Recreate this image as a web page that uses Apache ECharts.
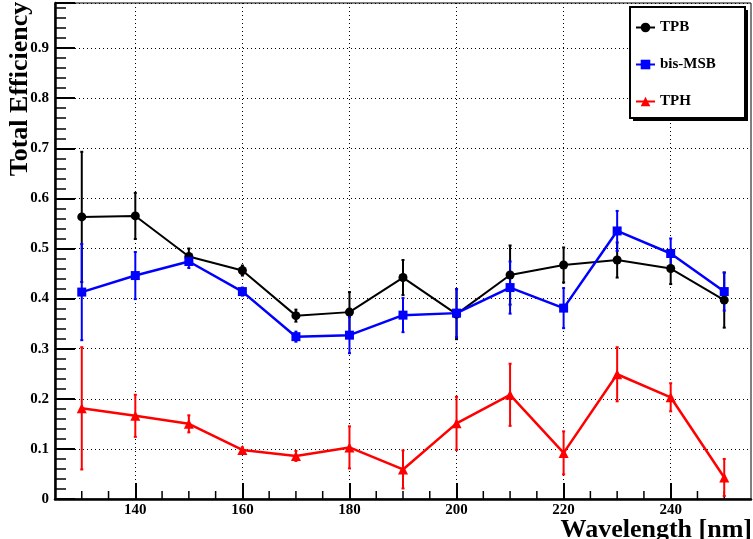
<!DOCTYPE html>
<html>
<head>
<meta charset="utf-8">
<script src="https://cdn.jsdelivr.net/npm/echarts@6/dist/echarts.min.js"></script>
<style>
  html, body { margin: 0; padding: 0; background: #fff; }
  #chart { width: 753px; height: 539px; }
</style>
</head>
<body>
<div id="chart"></div>
<script>
  // wavelengths in nm
  const wavelengths = [130, 140, 150, 160, 170, 180, 190, 200, 210, 220, 230, 240, 250];
  const tpbEff = [0.563, 0.565, 0.484, 0.456, 0.366, 0.373, 0.442, 0.369, 0.447, 0.467, 0.477, 0.460, 0.397];
  const tpbErr = [0.130, 0.046, 0.016, 0.010, 0.012, 0.040, 0.035, 0.050, 0.059, 0.035, 0.035, 0.031, 0.055];
  const msbEff = [0.413, 0.446, 0.474, 0.414, 0.324, 0.327, 0.367, 0.371, 0.422, 0.381, 0.535, 0.490, 0.414];
  const msbErr = [0.096, 0.047, 0.013, 0.008, 0.010, 0.036, 0.034, 0.048, 0.052, 0.040, 0.040, 0.030, 0.038];
  const tphEff = [0.181, 0.166, 0.150, 0.098, 0.086, 0.103, 0.059, 0.151, 0.208, 0.092, 0.249, 0.203, 0.043];
  const tphErr = [0.122, 0.042, 0.017, 0.005, 0.010, 0.042, 0.038, 0.053, 0.062, 0.043, 0.054, 0.028, 0.037];
  const xMajorTicks = [140, 160, 180, 200, 220, 240];
  const xMinorTicks = [130, 135, 145, 150, 155, 165, 170, 175, 185, 190, 195, 205, 210, 215, 225, 230, 235, 245, 250];

  const serif = "'Liberation Serif', 'DejaVu Serif', serif";

  function pts(ys) { return wavelengths.map((x, i) => [x, ys[i]]); }
  function errPts(ys, es) { return wavelengths.map((x, i) => [x, ys[i], es[i]]); }

  function errorSeries(name, color, ys, es) {
    return {
      name: name,
      type: 'custom',
      data: errPts(ys, es),
      z: 2,
      renderItem: function (params, api) {
        const x = api.value(0), y = api.value(1), e = api.value(2);
        const top = api.coord([x, y + e]);
        const bot = api.coord([x, y - e]);
        const st = { stroke: color, lineWidth: 2 };
        return {
          type: 'group',
          children: [
            { type: 'line', shape: { x1: top[0], y1: top[1], x2: bot[0], y2: bot[1] }, style: st },
            { type: 'line', shape: { x1: top[0] - 1.5, y1: top[1], x2: top[0] + 1.5, y2: top[1] }, style: st },
            { type: 'line', shape: { x1: bot[0] - 1.5, y1: bot[1], x2: bot[0] + 1.5, y2: bot[1] }, style: st }
          ]
        };
      }
    };
  }

  function lineSeries(name, color, ys, symbol, size, width) {
    return {
      name: name,
      type: 'line',
      data: pts(ys),
      symbol: symbol,
      symbolSize: size,
      showAllSymbol: true,
      z: 3,
      itemStyle: { color: color },
      lineStyle: { color: color, width: width }
    };
  }

  const chart = echarts.init(document.getElementById('chart'));
  const option = {
    animation: false,
    backgroundColor: '#fff',
    grid: {
      left: 55, right: 2, top: 3, bottom: 40,
      show: true, borderColor: '#000', borderWidth: 1
    },
    legend: {
      data: ['TPB', 'bis-MSB', 'TPH'],
      orient: 'vertical',
      left: 630,
      top: 15,
      itemGap: 22,
      itemWidth: 19,
      itemHeight: 12,
      z: 5,
      textStyle: { fontFamily: serif, fontWeight: 'bold', fontSize: 15, color: '#000' }
    },
    xAxis: {
      type: 'value',
      min: 125,
      max: 255,
      splitNumber: 6,
      axisLine: { onZero: false, lineStyle: { color: '#000', width: 2.5 } },
      axisTick: { inside: true, length: 16, customValues: xMajorTicks, lineStyle: { color: '#000', width: 2 } },
      axisLabel: {
        customValues: xMajorTicks,
        margin: 4,
        color: '#000',
        fontFamily: serif,
        fontWeight: 'bold',
        fontSize: 15
      },
      splitLine: { show: true, lineStyle: { color: '#000', width: 1, type: [1, 3] } }
    },
    yAxis: {
      type: 'value',
      min: 0,
      max: 0.99,
      interval: 0.1,
      axisLine: { lineStyle: { color: '#000', width: 2.5 } },
      axisTick: { inside: true, length: 20, lineStyle: { color: '#000', width: 2 } },
      minorTick: { show: true, splitNumber: 5, length: 11, lineStyle: { color: '#000', width: 1.5 } },
      axisLabel: {
        showMaxLabel: false,
        margin: 6,
        color: '#000',
        fontFamily: serif,
        fontWeight: 'bold',
        fontSize: 15,
        formatter: function (v) { return v === 0 ? '0' : v.toFixed(1); }
      },
      splitLine: { show: true, lineStyle: { color: '#000', width: 1, type: [1, 3] } }
    },
    graphic: [
      { type: 'rect', z: 3, shape: { x: 633, y: 10, width: 115, height: 111 }, style: { fill: '#000' } },
      { type: 'rect', z: 3, shape: { x: 630, y: 7, width: 115, height: 111 }, style: { fill: '#fff', stroke: '#000', lineWidth: 2 } },
      {
        type: 'text', z: 5, x: 20, y: 89, rotation: Math.PI / 2,
        style: { text: 'Total Efficiency', fill: '#000', font: 'bold 26px ' + serif, align: 'center', verticalAlign: 'middle' }
      },
      {
        type: 'text', z: 5, x: 752, y: 530,
        style: { text: 'Wavelength [nm]', fill: '#000', font: 'bold 26px ' + serif, align: 'right', verticalAlign: 'middle' }
      }
    ],
    series: [
      {
        name: 'xMinor',
        type: 'custom',
        data: xMinorTicks.map(v => [v, 0]),
        silent: true,
        z: 1,
        renderItem: function (params, api) {
          const p = api.coord([api.value(0), api.value(1)]);
          return { type: 'line', shape: { x1: p[0], y1: p[1], x2: p[0], y2: p[1] - 8 }, style: { stroke: '#000', lineWidth: 1.5 } };
        }
      },
      errorSeries('TPB err', '#000', tpbEff, tpbErr),
      lineSeries('TPB', '#000', tpbEff, 'circle', 9, 2),
      errorSeries('bis-MSB err', '#0000ff', msbEff, msbErr),
      lineSeries('bis-MSB', '#0000ff', msbEff, 'rect', 9, 2.5),
      errorSeries('TPH err', '#ff0000', tphEff, tphErr),
      lineSeries('TPH', '#ff0000', tphEff, 'triangle', 10, 2.5)
    ]
  };
  chart.setOption(option);
</script>
</body>
</html>
